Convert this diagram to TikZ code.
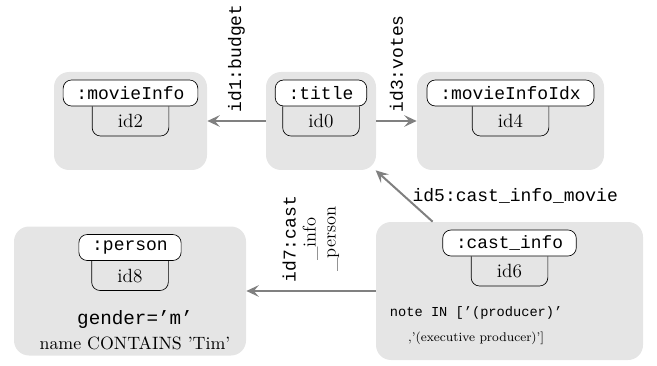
\documentclass[tikz,border=0pt]{standalone}
\usepackage{fontspec}
\setmonofont{Liberation Mono}[Scale=1.08]
\usetikzlibrary{positioning,arrows.meta}

\begin{document}
\begin{tikzpicture}[x=0.6pt,y=-0.6pt,
        table/.style={fill=gray!20, rounded corners=9pt, inner sep=0pt},
        pill/.style={draw, fill=white, rounded corners=5pt, font=\ttfamily, inner xsep=8pt, inner ysep=0pt, minimum height=15.6pt, anchor=north},
        tab/.style={minimum width=45.6pt, minimum height=17.4pt, inner sep=0pt, font=\fontsize{11.5}{13}\selectfont},
        tabline/.style={rounded corners=5pt},
        cond/.style={align=center, inner sep=0pt},
        link/.style={draw=gray, line width=1.2pt, -{Stealth[length=7.5pt,width=7pt,inset=3pt]}},
        rel/.style={font=\ttfamily, inner sep=4.5pt}]
        \useasboundingbox (0,0) rectangle (657,366);
        % tables
        \node[table, minimum width=91.8pt, minimum height=58.8pt] (movieinfo) at (130.5,121) {};
        \node[table, minimum width=66pt, minimum height=58.8pt] (title) at (321,121) {};
        \node[table, minimum width=112.2pt, minimum height=58.8pt] (movieinfoidx) at (510.5,121) {};
        \node[table, minimum width=139.2pt, minimum height=77.4pt] (person) at (130,291) {};
        \node[table, minimum width=160.2pt, minimum height=82.8pt] (castinfo) at (509.5,291) {};
        % labels and ids
        \node[pill] (p2) at ([yshift=-4.8pt]movieinfo.north) {:movieInfo};
        \node[pill] (p0) at ([yshift=-4.8pt]title.north) {:title};
        \node[pill] (p4) at ([yshift=-4.8pt]movieinfoidx.north) {:movieInfoIdx};
        \node[pill] (p8) at ([yshift=-4.8pt]person.north) {:person};
        \node[pill, font=\fontsize{9.9}{12}\ttfamily] (p6) at ([yshift=-4.8pt]castinfo.north) {:cast\_info};
        \node[tab, below=0pt of p2] (id2) {id2};
        \node[tab, below=0pt of p0] (id0) {id0};
        \node[tab, below=0pt of p4] (id4) {id4};
        \node[tab, below=0pt of p8] (id8) {id8};
        \node[tab, below=0pt of p6] (id6) {id6};
        \foreach \t in {id2,id0,id4,id8,id6}
            \draw[tabline] (\t.north west) -- (\t.south west) -- (\t.south east) -- (\t.north east);
        % conditions
        \node[cond, font=\fontsize{10.7}{15}\selectfont] (c8) at ([xshift=3pt,yshift=-24pt]id8.south) {\texttt{gender=’m’}\\name CONTAINS ’Tim’};
        \node[cond, font=\fontsize{7.6}{15}\selectfont] (c6) at ([xshift=-20pt,yshift=-24pt]id6.south) {\texttt{note IN [’(producer)’}\\,’(executive producer)’]};
        % relationships
        \draw[link] (title) -- node[rel, rotate=90, anchor=west]{id1:budget} (movieinfo);
        \draw[link] (title) -- node[rel, rotate=90, anchor=west]{id3:votes} (movieinfoidx);
        \draw[link] (castinfo) -- node[rel, anchor=west]{id5:cast\_info\_movie} (title);
        \draw[link] (castinfo) -- node[rel, rotate=90, anchor=west, align=center]{id7:cast\\\rmfamily\fontsize{11}{12}\selectfont\_info\\\rmfamily\fontsize{11}{12}\selectfont\_person} (person);
    \end{tikzpicture}
\end{document}
